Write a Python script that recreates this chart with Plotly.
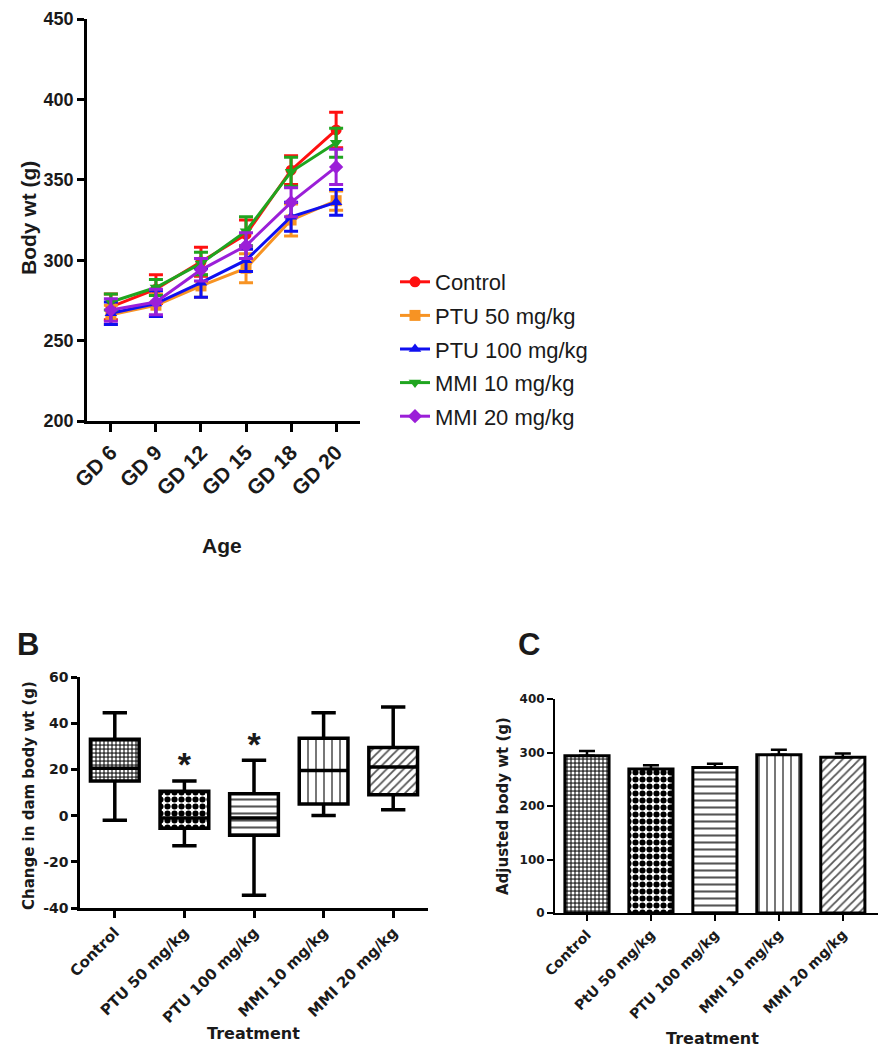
import plotly.graph_objects as go

# ---------------- Data ----------------
ages = ["GD 6", "GD 9", "GD 12", "GD 15", "GD 18", "GD 20"]
series_names = ["Control", "PTU 50 mg/kg", "PTU 100 mg/kg", "MMI 10 mg/kg", "MMI 20 mg/kg"]
control_wt = [271, 282, 299, 316, 356, 381]
control_sem = [8, 9, 9, 9, 9, 11]
ptu50_wt = [266, 272, 284, 295, 325, 337]
ptu50_sem = [6, 7, 7, 9, 10, 6]
ptu100_wt = [267, 273, 286, 300, 327, 336]
ptu100_sem = [7, 8, 9, 7, 9, 8]
mmi10_wt = [274, 283, 298, 318, 355, 373]
mmi10_sem = [5, 5, 7, 9, 9, 9]
mmi20_wt = [269, 274, 294, 309, 336, 358]
mmi20_sem = [7, 8, 7, 8, 9, 11]

treatments_b = ["Control", "PTU 50 mg/kg", "PTU 100 mg/kg", "MMI 10 mg/kg", "MMI 20 mg/kg"]
box_min = [-2, -13, -34.5, 0, 2.5]
box_q1 = [15, -5.5, -8.5, 5, 9]
box_median = [20.5, -1, -1, 19.5, 21]
box_q3 = [33, 10.5, 9.5, 33.5, 29.5]
box_max = [44.5, 15, 24, 44.5, 47]
sig_labels = ["", "*", "*", "", ""]
sig_y = [None, 21, 29.5, None, None]
b_ticks = [-40, -20, 0, 20, 40, 60]
b_ticktext = ["-40", "-20", "0", "20", "40", "60"]

treatments_c = ["Control", "PtU 50 mg/kg", "PTU 100 mg/kg", "MMI 10 mg/kg", "MMI 20 mg/kg"]
adj_wt = [294, 269, 272, 296, 291]
adj_sem = [9, 7, 7, 9, 7]

# ---------------- Styles ----------------
OFF = 8                      # default page margin of the html body
W, H = 887 - OFF, 1050 - OFF
colors = ["#ff1010", "#f79323", "#1010f0", "#1fa51f", "#9b1fd8"]
symbols = ["circle", "square", "triangle-up", "triangle-down", "diamond"]
pat_shape = [".", ".", "-", "|", "/"]
pat_fg = ["#ffffff", "#000000", "#555555", "#777777", "#555555"]
pat_bg = ["#3a3a3a", "#ffffff", "#ffffff", "#ffffff", "#ffffff"]
pat_size = [4, 7, 7, 8, 6]
pat_sol = [0.45, 0.6, 0.3, 0.25, 0.3]

AR = "Liberation Sans, Arial, sans-serif"
DV = "DejaVu Sans, sans-serif"
TXT = "#1a1a1a"

def px_x(p):
    return (p - OFF) / W

def px_y(p):
    return 1 - (p - OFF) / H

fig = go.Figure()

# Panel A
all_wt = [control_wt, ptu50_wt, ptu100_wt, mmi10_wt, mmi20_wt]
all_sem = [control_sem, ptu50_sem, ptu100_sem, mmi10_sem, mmi20_sem]
for i, name in enumerate(series_names):
    fig.add_trace(go.Scatter(
        x=ages, y=all_wt[i], name=name, mode="lines+markers",
        legendgroup=name,
        line=dict(color=colors[i], width=3),
        marker=dict(symbol=symbols[i], size=11, color=colors[i]),
        error_y=dict(type="data", array=all_sem[i], color=colors[i], thickness=3, width=7),
        xaxis="x", yaxis="y",
    ))

# Panel B: pattern fill under box outline
fig.add_trace(go.Bar(
    x=treatments_b, y=[q3 - q1 for q1, q3 in zip(box_q1, box_q3)], base=box_q1,
    width=0.7, showlegend=False,
    marker=dict(color="white", line=dict(width=0),
                pattern=dict(shape=pat_shape, fgcolor=pat_fg, bgcolor=pat_bg,
                             size=pat_size, solidity=pat_sol, fillmode="replace")),
    xaxis="x2", yaxis="y2",
))
fig.add_trace(go.Box(
    x=treatments_b, q1=box_q1, median=box_median, q3=box_q3,
    lowerfence=box_min, upperfence=box_max, width=0.7, whiskerwidth=0.5,
    fillcolor="rgba(0,0,0,0)", line=dict(color="black", width=3.5),
    showlegend=False, boxpoints=False, xaxis="x2", yaxis="y2",
))
fig.add_trace(go.Scatter(
    x=treatments_b, y=sig_y, mode="text", text=sig_labels,
    textfont=dict(family=AR, size=34, color=TXT, weight="bold"), textposition="middle center",
    showlegend=False, xaxis="x2", yaxis="y2", hoverinfo="skip",
))

# Panel C
fig.add_trace(go.Bar(
    x=treatments_c, y=adj_wt, width=0.69, showlegend=False,
    marker=dict(color="white", line=dict(width=3, color="black"),
                pattern=dict(shape=pat_shape, fgcolor=pat_fg, bgcolor=pat_bg,
                             size=pat_size, solidity=pat_sol, fillmode="replace")),
    error_y=dict(type="data", array=adj_sem, arrayminus=[0] * len(adj_sem), symmetric=False,
                 color="black", thickness=2.5, width=8),
    xaxis="x3", yaxis="y3",
))

axis_common = dict(showline=True, linecolor="black", showgrid=False, zeroline=False,
                   ticks="outside", tickcolor="black", automargin=False,
                   ticklabeloverflow="allow")

fig.update_layout(
    width=W, height=H, margin=dict(l=0, r=0, t=0, b=0, autoexpand=False),
    paper_bgcolor="white", plot_bgcolor="white",
    barmode="overlay", boxmode="overlay",
    xaxis=dict(domain=[px_x(87), px_x(360)], anchor="y", range=[-0.53, 5.53],
               linewidth=2.5, tickwidth=2.5, ticklen=8, tickangle=-45,
               tickfont=dict(family=AR, size=21, color=TXT, weight="bold"), **axis_common),
    yaxis=dict(domain=[px_y(421), px_y(19)], anchor="x", range=[200, 450],
               tickvals=[200, 250, 300, 350, 400, 450],
               linewidth=2.5, tickwidth=2.5, ticklen=7,
               tickfont=dict(family=AR, size=18, color=TXT, weight="bold"), **axis_common),
    xaxis2=dict(domain=[px_x(80), px_x(428)], anchor="y2", range=[-0.5, 4.5],
                linewidth=2.5, tickwidth=2.5, ticklen=7, tickangle=-45,
                tickfont=dict(family=DV, size=15, color=TXT, weight="bold"), **axis_common),
    yaxis2=dict(domain=[px_y(908), px_y(677)], anchor="x2", range=[-40, 60],
                tickvals=b_ticks, ticktext=b_ticktext,
                linewidth=2.5, tickwidth=2.5, ticklen=6,
                tickfont=dict(family=DV, size=14, color=TXT, weight="bold"), **axis_common),
    xaxis3=dict(domain=[px_x(555), px_x(878)], anchor="y3", range=[-0.5, 4.55],
                linewidth=2, tickwidth=2, ticklen=6, tickangle=-45,
                tickfont=dict(family=DV, size=14, color=TXT, weight="bold"), **axis_common),
    yaxis3=dict(domain=[px_y(913), px_y(699)], anchor="x3", range=[0, 400],
                tickvals=[0, 100, 200, 300, 400],
                linewidth=2, tickwidth=2, ticklen=6,
                tickfont=dict(family=DV, size=12, color=TXT, weight="bold"), **axis_common),
    legend=dict(x=px_x(395), y=px_y(261), xanchor="left", yanchor="top",
                font=dict(family=AR, size=22, color=TXT), tracegroupgap=2,
                bgcolor="rgba(0,0,0,0)", itemwidth=30),
)

ann = [
    dict(text="Body wt (g)", x=px_x(28), y=px_y(218), textangle=-90,
         font=dict(family=AR, size=21, color=TXT, weight="bold")),
    dict(text="Age", x=px_x(222), y=px_y(545),
         font=dict(family=AR, size=21, color=TXT, weight="bold")),
    dict(text="B", x=px_x(28), y=px_y(644),
         font=dict(family=AR, size=31, color=TXT, weight="bold")),
    dict(text="C", x=px_x(529), y=px_y(644),
         font=dict(family=AR, size=31, color=TXT, weight="bold")),
    dict(text="Change in dam body wt (g)", x=px_x(29), y=px_y(796), textangle=-90,
         font=dict(family=DV, size=15, color=TXT, weight="bold")),
    dict(text="Treatment", x=px_x(253), y=px_y(1033),
         font=dict(family=DV, size=16, color=TXT, weight="bold")),
    dict(text="Adjusted body wt (g)", x=px_x(503), y=px_y(806), textangle=-90,
         font=dict(family=DV, size=15, color=TXT, weight="bold")),
    dict(text="Treatment", x=px_x(712), y=px_y(1038),
         font=dict(family=DV, size=16, color=TXT, weight="bold")),
]
for a in ann:
    a.update(xref="paper", yref="paper", showarrow=False, xanchor="center", yanchor="middle")
fig.update_layout(annotations=ann)

fig.write_html("out.html")
